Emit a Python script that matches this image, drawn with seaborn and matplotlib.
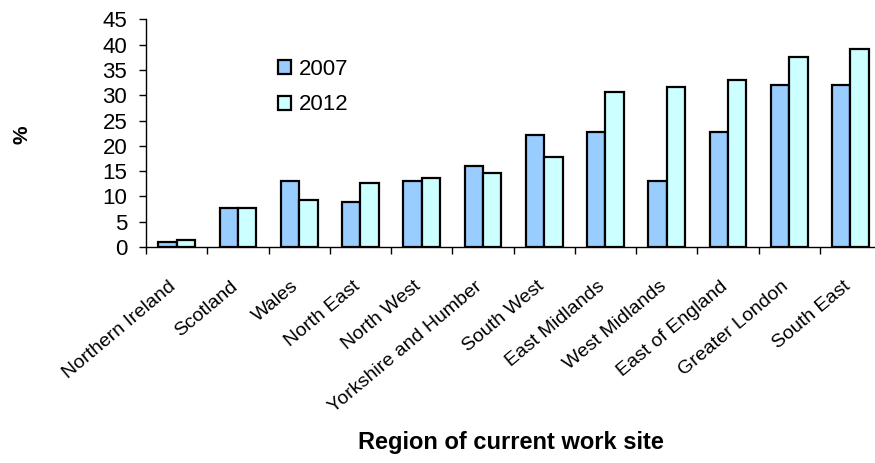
import matplotlib
matplotlib.use("Agg")
import matplotlib.pyplot as plt
import matplotlib.transforms as mtransforms
import seaborn as sns
import pandas as pd
from matplotlib.ticker import FixedLocator, NullFormatter

regions = ["Northern Ireland", "Scotland", "Wales", "North East", "North West",
           "Yorkshire and Humber", "South West", "East Midlands", "West Midlands",
           "East of England", "Greater London", "South East"]
v2007 = [1.0, 7.8, 13.0, 8.9, 13.0, 16.0, 22.2, 22.8, 13.0, 22.8, 32.0, 32.0]
v2012 = [1.4, 7.8, 9.2, 12.7, 13.7, 14.7, 17.8, 30.7, 31.7, 33.1, 37.5, 39.2]
years = ["2007", "2012"]
colors = ["#99CCFF", "#CCFFFF"]

df = pd.DataFrame({
    "Region": regions * 2,
    "Value": v2007 + v2012,
    "Year": [years[0]] * len(regions) + [years[1]] * len(regions),
})

sns.set_theme(style="white")
plt.rcParams["font.family"] = ["Liberation Sans", "DejaVu Sans"]
plt.rcParams["text.color"] = "black"
plt.rcParams["axes.labelcolor"] = "black"
plt.rcParams["xtick.color"] = "black"
plt.rcParams["ytick.color"] = "black"

fig = plt.figure(figsize=(8.75, 4.63), dpi=100)
ax = fig.add_axes([0.1669, 0.4665, 0.84, 0.4918])

sns.barplot(data=df, x="Region", y="Value", hue="Year", order=regions,
            hue_order=years, palette=colors, width=0.6, edgecolor="black",
            linewidth=1.6, ax=ax, saturation=1)

ax.set_ylim(0, 45)
ax.set_xlim(-0.5, 11.5)
ax.set_yticks(range(0, 46, 5))
ax.tick_params(axis="y", labelsize=16, length=5, width=1, color="black",
               labelcolor="black", direction="out", left=True, pad=8.5)

ax.set_xticks(range(len(regions)))
ax.set_xticklabels(regions, rotation=40, ha="right", va="top",
                   rotation_mode="anchor", fontsize=14, color="black")
ax.tick_params(axis="x", which="major", length=0, pad=22)
offset = mtransforms.ScaledTranslation(-8 / 100, 0, fig.dpi_scale_trans)
for lab in ax.get_xticklabels():
    lab.set_transform(lab.get_transform() + offset)
ax.xaxis.set_minor_locator(FixedLocator([i - 0.5 for i in range(len(regions) + 1)]))
ax.xaxis.set_minor_formatter(NullFormatter())
ax.tick_params(axis="x", which="minor", length=5, width=1, color="black",
               direction="out", bottom=True)

for side in ["top", "right"]:
    ax.spines[side].set_visible(False)
for side in ["left", "bottom"]:
    ax.spines[side].set_color("black")
    ax.spines[side].set_linewidth(1)

ax.set_xlabel("")
ax.set_ylabel("")
fig.text(511 / 875, 1 - 443 / 463, "Region of current work site", fontsize=17,
         fontweight="bold", ha="center", va="center", color="black")
fig.text(22 / 875, 1 - 135 / 463, "%", fontsize=15, fontweight="bold",
         rotation=90, ha="center", va="center", color="black")

leg = ax.legend(loc="upper left", bbox_to_anchor=(278 / 875, 1 - 59 / 463),
                bbox_transform=fig.transFigure, frameon=False, fontsize=16,
                handlelength=0.6, handleheight=0.6, handletextpad=0.35,
                labelspacing=0.65, borderpad=0, borderaxespad=0)
for t in leg.get_texts():
    t.set_color("black")

fig.savefig("out.png", dpi=100)
